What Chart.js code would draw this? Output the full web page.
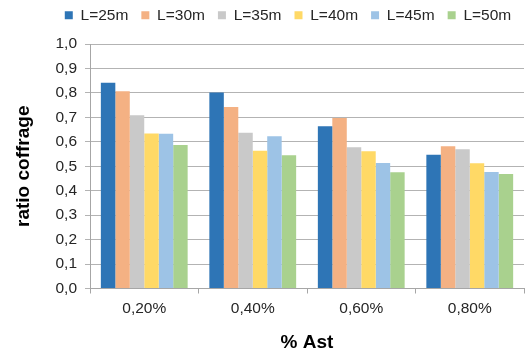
<!DOCTYPE html>
<html>
<head>
<meta charset="utf-8">
<script src="https://cdn.jsdelivr.net/npm/chart.js@4/dist/chart.umd.min.js"></script>
<style>
  body { margin: 0; background: #fff; }
  #caja { width: 526px; height: 356px; }
</style>
</head>
<body>
<div id="caja"><canvas id="grafico"></canvas></div>
<script>
/* datos */
const categorias = ['0,20%', '0,40%', '0,60%', '0,80%'];
const series = ['L=25m', 'L=30m', 'L=35m', 'L=40m', 'L=45m', 'L=50m'];
const l25 = [0.842, 0.802, 0.664, 0.547];
const l30 = [0.807, 0.742, 0.697, 0.582];
const l35 = [0.709, 0.637, 0.578, 0.570];
const l40 = [0.634, 0.563, 0.561, 0.512];
const l45 = [0.633, 0.623, 0.513, 0.476];
const l50 = [0.587, 0.545, 0.475, 0.468];
const yTicks = ['0,0', '0,1', '0,2', '0,3', '0,4', '0,5', '0,6', '0,7', '0,8', '0,9', '1,0'];

const valores = [l25, l30, l35, l40, l45, l50];
const colores = ['#2e75b6', '#f4b183', '#c9c9c9', '#ffd966', '#9dc3e6', '#a9d18e'];

const fuente = "'Liberation Sans', Arial, sans-serif";

// la leyenda del original no esta centrada en el lienzo
const moverLeyenda = {
  id: 'moverLeyenda',
  afterLayout(chart) {
    const lg = chart.legend;
    lg.left += 26; lg.right += 26;
    lg.top -= 11; lg.bottom -= 11;
  }
};

const ctx = document.getElementById('grafico').getContext('2d');

const data = {
  labels: categorias,
  datasets: series.map((nombre, i) => ({
    label: nombre,
    data: valores[i],
    backgroundColor: colores[i],
    borderWidth: 0,
    barPercentage: 1,
    categoryPercentage: 0.8,
  }))
};

const options = {
  responsive: true,
  maintainAspectRatio: false,
  animation: false,
  layout: { padding: { top: 5.5, right: 2 } },
  plugins: {
    legend: {
      position: 'top',
      labels: {
        boxWidth: 8,
        boxHeight: 8,
        padding: 13,
        color: '#262626',
        font: { family: fuente, size: 15.5 }
      }
    },
    tooltip: { enabled: false }
  },
  scales: {
    x: {
      grid: {
        drawOnChartArea: false,
        drawTicks: true,
        tickLength: 5,
        color: '#a6a6a6'
      },
      border: { color: '#a6a6a6' },
      ticks: {
        padding: 6,
        color: '#262626',
        font: { family: fuente, size: 15.5 }
      },
      title: {
        display: true,
        text: '% Ast',
        color: '#000',
        font: { family: fuente, size: 19, weight: 'bold' },
        padding: { top: 4, bottom: 1.6 }
      },
      afterFit(scale) { scale.height = 67.5; }
    },
    y: {
      min: 0,
      max: 1,
      grid: {
        color: '#b3b3b3',
        tickLength: 5
      },
      border: { color: '#a6a6a6' },
      ticks: {
        stepSize: 0.1,
        padding: 8,
        color: '#262626',
        font: { family: fuente, size: 15.5 },
        callback: (v, i) => yTicks[i]
      },
      title: {
        display: true,
        text: 'ratio coffrage',
        color: '#000',
        font: { family: fuente, size: 19, weight: 'bold' },
        padding: { top: 12.6, bottom: 4 }
      },
      afterFit(scale) { scale.width = 90; }
    }
  }
};

new Chart(ctx, {
  type: 'bar',
  data: data,
  options: options,
  plugins: [moverLeyenda]
});
</script>
</body>
</html>
